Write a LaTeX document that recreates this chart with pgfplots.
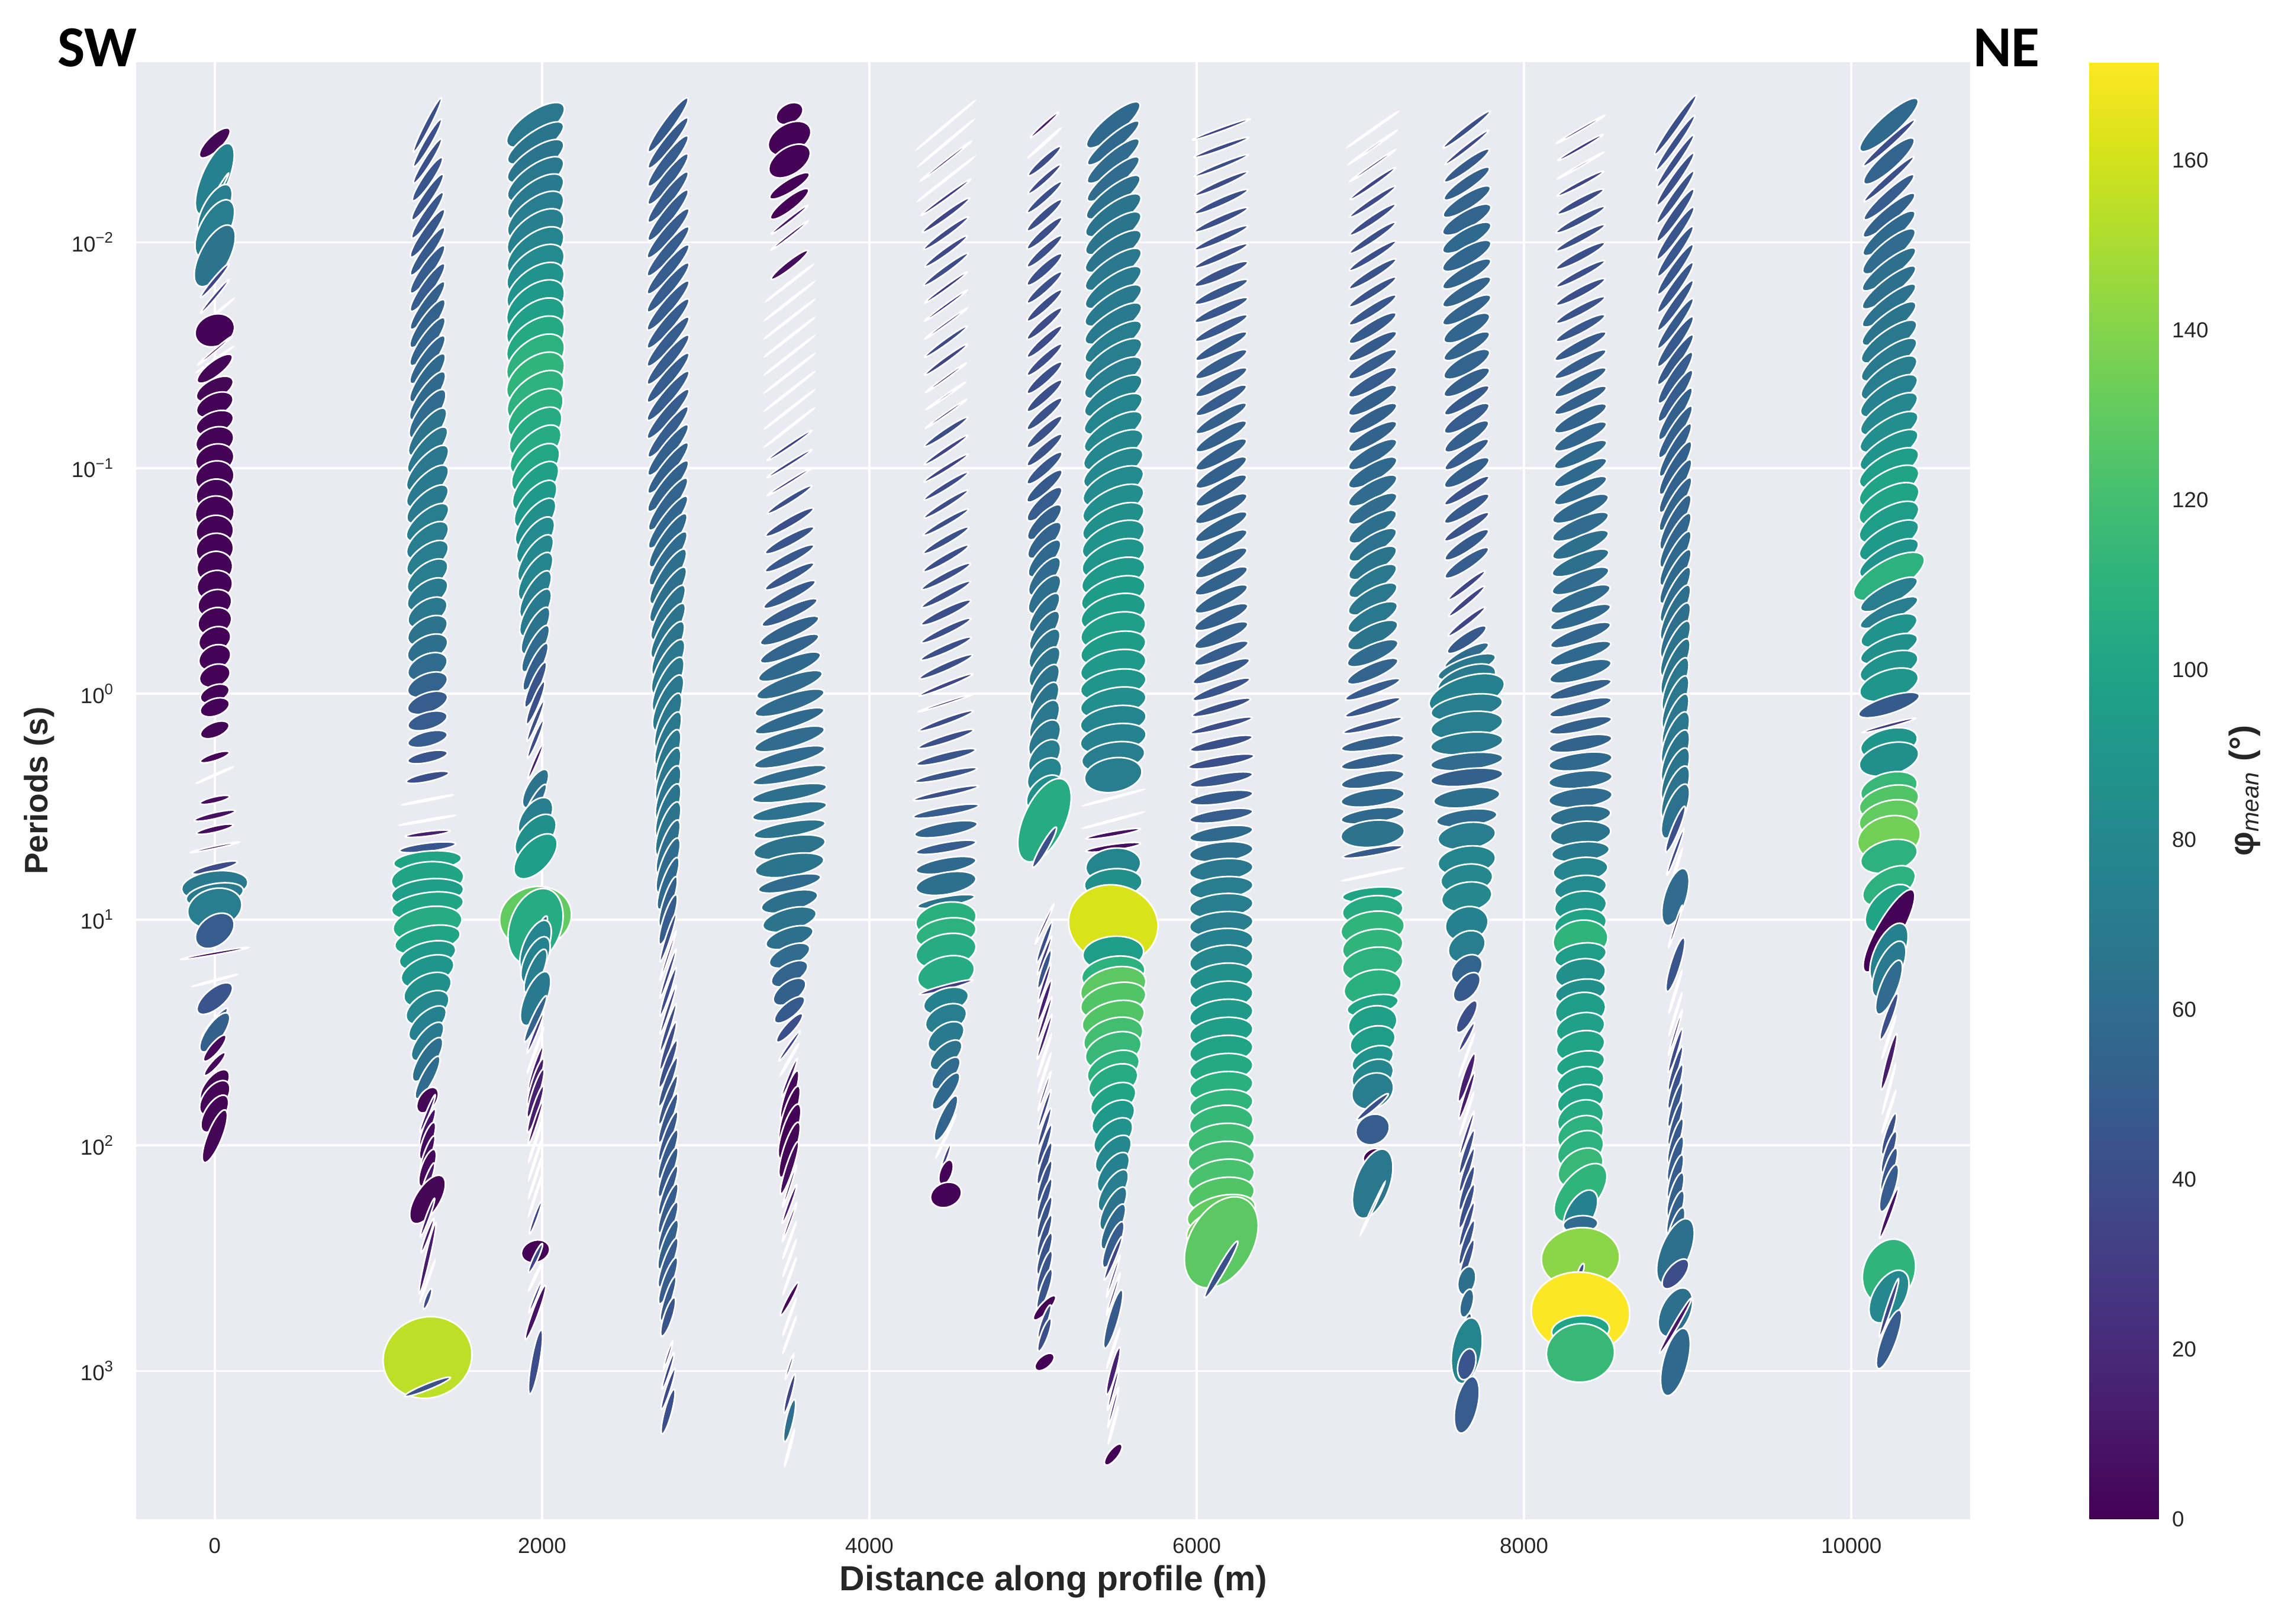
\documentclass[border=0pt]{standalone}
\usepackage{fontspec}
\setmainfont{Liberation Sans}
\newfontfamily\calib{Carlito}
\usepackage{pgfplots}
\usepackage{pgfplotstable}
\pgfplotsset{compat=1.18}
% columns: t = log10 period, L/W = ellipse axes (px at 1568 wide), A = tilt, P = phi mean
\pgfplotstableread{
t L W A P
-2.44 28 6 44 2
-2.36 26 2.5 48 35
-2.28 53 11 67 75
-2.20 38 1.5 60 70
-2.14 40 10 62 72
-2.06 44 12 62 72
-1.94 47 12 62 65
-1.83 30 2 50 35
-1.76 30 1.5 50 30
-1.68 33 0.6 40 30
-1.61 28 13 22 1
-1.52 30 1 40 10
-1.48 30 0.6 35 10
-1.44 30 6 38 2
-1.35 28 8 28 2
-1.28 27 9 25 1
-1.20 27 9 22 1
-1.12 27 11 20 1
-1.04 27 12 18 1
-0.96 27 13 17 1
-0.88 26 13 15 1
-0.80 27 14 13 1
-0.72 26 13 12 1
-0.64 26 13 15 1
-0.56 25 13 18 1
-0.48 25 12 20 1
-0.40 24 11 22 1
-0.32 24 11 23 1
-0.24 23 10 25 1
-0.16 23 10 25 1
-0.08 22 9 22 1
0.00 21 7 22 1
0.06 21 7 20 1
0.16 21 6 22 2
0.28 21 3 18 3
0.36 27 0.6 24 10
0.47 21 2.5 13 5
0.54 29 2.5 13 8
0.60 26 2.5 13 5
0.68 34 1 12 10
0.77 32 3 14 40
0.85 46 12 7 70
0.89 40 9 10 70
0.95 38 16 15 72
1.05 30 12 38 50
1.15 47 1.2 10 5
1.27 31 0.6 15 10
1.35 30 8 40 45
1.46 27 3 50 50
1.50 32 7 55 52
1.57 23 4 50 3
1.64 21 3 48 4
1.74 28 8 52 2
1.79 28 9 52 2
1.86 29 8 58 2
1.96 39 6 68 2
}\sA
\pgfplotstableread{
t L W A P
-2.52 42 2.5 63 42
-2.44 38 3 60 42
-2.36 36 3 58 42
-2.28 36 4 56 45
-2.20 38 4 56 45
-2.12 38 4 56 46
-2.04 40 4.5 55 47
-1.96 40 4.5 55 48
-1.88 40 5 55 50
-1.80 40 5 55 50
-1.72 40 5 55 52
-1.64 40 6 55 54
-1.56 40 6 55 55
-1.48 40 6 55 56
-1.40 40 6.5 55 58
-1.32 40 7 55 58
-1.24 40 8 55 60
-1.16 40 8 53 65
-1.08 40 8 50 68
-1.00 40 9 48 68
-0.92 38 9 45 70
-0.84 36 9 42 70
-0.76 36 9 40 72
-0.68 35 10 40 72
-0.60 34 10 38 72
-0.52 33 10 38 72
-0.44 32 10 35 70
-0.36 30 10 32 68
-0.28 30 10 30 65
-0.20 30 10 27 62
-0.12 29 10 25 60
-0.04 29 9 22 55
0.04 29 8 20 50
0.12 28 7 16 50
0.20 28 6 14 50
0.28 28 4.5 12 45
0.37 30 3.5 12 42
0.47 35 0.7 11 30
0.56 38 0.7 10 30
0.62 31 2 7 15
0.68 39 3.5 7 45
0.74 47 8 5 100
0.82 50 14 5 100
0.88 50 11 6 95
0.94 50 11 8 100
1.02 48 14 10 105
1.09 46 11 12 100
1.16 40 11 15 92
1.23 38 12 20 90
1.31 35 12 26 85
1.39 33 11 32 80
1.46 32 9 42 75
1.54 32 8 52 70
1.62 35 7 58 62
1.70 33 5 62 60
1.80 20 7 55 2
1.86 28 1.5 68 10
1.92 27 3 68 8
1.98 27 4 70 4
2.04 27 3 70 6
2.10 27 5 70 3
2.16 27 2.5 70 10
2.24 38 10 58 2
2.32 28 1.5 70 12
2.40 25 1.5 70 12
2.50 50 2 77 12
2.60 30 0.6 70 10
2.68 15 2 70 40
2.94 62 33 20 155
3.07 34 2.5 22 42
}\sB
\pgfplotstableread{
t L W A P
-2.52 47 11 35 68
-2.44 46 9 35 66
-2.36 46 10 35 66
-2.28 46 11 36 68
-2.20 46 12 37 70
-2.12 46 13 38 72
-2.04 46 14 38 74
-1.96 46 14 38 78
-1.88 46 15 38 82
-1.80 46 15 38 88
-1.72 46 16 38 92
-1.64 46 16 38 98
-1.56 46 16 38 104
-1.48 46 16 38 110
-1.40 46 16 38 112
-1.32 46 15 39 110
-1.24 45 15 40 108
-1.16 44 14 42 105
-1.08 44 13 44 105
-1.00 42 13 46 102
-0.92 42 12 48 98
-0.84 40 11 50 92
-0.76 40 10 52 85
-0.68 38 10 54 82
-0.60 38 9 56 80
-0.52 38 9 58 78
-0.44 37 8 60 72
-0.36 37 8 60 70
-0.28 36 7 62 65
-0.20 36 6 62 60
-0.12 36 5 64 52
-0.04 34 4 66 45
0.04 32 3 68 42
0.12 30 2 68 42
0.20 28 2 68 40
0.30 26 1.5 67 15
0.42 30 7 60 65
0.48 28 4 60 62
0.55 32 11 55 72
0.63 36 12 48 85
0.72 38 12 47 95
0.99 50 25 15 130
1.03 54 21 70 105
1.10 39 4 67 50
1.12 39 10 67 78
1.18 35 9 65 75
1.23 33 6 67 72
1.35 40 9 67 70
1.44 35 3 65 55
1.50 30 1.5 68 30
1.58 32 0.6 70 10
1.66 32 2 72 12
1.72 34 3 72 14
1.77 35 3 72 15
1.84 34 2.5 72 14
1.90 32 1.5 72 10
1.98 30 0.7 72 10
2.06 30 0.6 72 10
2.14 30 0.6 72 10
2.22 30 0.6 72 10
2.32 24 1.5 70 35
2.47 20 9 20 1
2.50 22 2 65 35
2.58 22 0.7 65 20
2.67 24 1.2 68 30
2.74 40 2.5 70 8
2.96 45 3.5 80 40
}\sC
\pgfplotstableread{
t L W A P
-2.52 46 4.5 54 48
-2.44 44 4.5 52 48
-2.36 44 5 52 50
-2.28 44 5 52 50
-2.20 44 5 52 50
-2.12 44 5 52 50
-2.04 44 5 50 50
-1.96 44 5 50 50
-1.88 44 5 50 50
-1.80 44 5 50 50
-1.72 44 5 50 50
-1.64 44 5 50 50
-1.56 44 5 50 50
-1.48 44 5 50 50
-1.40 44 5 50 50
-1.32 44 5 50 50
-1.24 44 5 50 50
-1.16 44 5 52 50
-1.08 44 5.5 52 52
-1.00 44 5.5 52 52
-0.92 44 6 52 54
-0.84 44 6 54 55
-0.76 44 6 54 56
-0.68 44 6.5 56 58
-0.60 44 6.5 56 60
-0.52 44 7 58 62
-0.44 44 7 58 62
-0.36 43 7 60 64
-0.28 43 7 60 65
-0.20 42 7.5 62 66
-0.12 42 8 62 68
-0.04 42 8 64 68
0.04 42 8 65 68
0.12 41 7 68 68
0.20 40 7 68 68
0.28 40 7 70 68
0.36 40 7 70 68
0.44 40 7 70 66
0.52 40 7 70 66
0.60 40 7 70 65
0.68 40 6 70 62
0.76 40 6 70 60
0.84 38 5 70 58
0.92 36 4 72 52
1.00 36 4 72 50
1.08 35 2 72 42
1.16 35 1 72 30
1.24 35 1.5 72 35
1.32 35 2 72 38
1.40 35 1.5 72 35
1.48 35 2 72 40
1.56 35 2.5 72 40
1.64 35 3 70 42
1.72 36 3 70 45
1.80 36 3 70 45
1.88 36 3.5 70 46
1.96 36 3.5 70 46
2.04 36 4 70 48
2.12 36 4 70 48
2.20 36 3.5 70 48
2.28 36 4 70 50
2.36 36 4 70 50
2.44 36 4.5 70 52
2.52 36 4 70 50
2.60 34 4 70 50
2.68 32 3 72 48
2.76 28 3.5 72 45
2.93 20 1 72 20
3.00 26 1.5 72 35
3.08 30 2 72 38
3.18 32 3 75 42
}\sD
\pgfplotstableread{
t L W A P
-2.57 20 8 30 1
-2.46 32 12 30 1
-2.36 32 11 33 1
-2.25 32 5 32 1
-2.17 33 5 38 1
-2.10 32 1.5 38 10
-2.03 32 1.2 38 12
-1.90 32 3 38 5
-1.82 40 0.6 38 10
-1.74 42 0.6 38 10
-1.66 42 0.6 38 10
-1.58 42 0.6 38 10
-1.50 42 0.6 38 10
-1.42 42 0.6 38 10
-1.34 42 0.6 38 10
-1.26 42 0.6 38 10
-1.18 42 0.6 38 10
-1.10 37 1.5 34 35
-1.02 36 1.5 32 35
-0.94 36 1.2 32 30
-0.86 36 2.5 32 42
-0.76 38 3.5 30 42
-0.68 38 4 28 45
-0.60 38 4 28 46
-0.52 38 4 28 46
-0.44 40 4.5 27 48
-0.36 42 5 25 50
-0.28 44 6 24 54
-0.20 44 6 24 55
-0.12 46 7 22 58
-0.04 48 7 20 60
0.04 50 7 18 60
0.12 50 6 18 58
0.20 50 7 16 60
0.28 50 6 14 60
0.36 52 5 12 60
0.44 52 6 10 62
0.52 52 6 10 64
0.60 50 6 10 65
0.68 50 9 10 65
0.76 48 9 10 66
0.84 44 6 12 60
0.92 40 8 14 62
1.00 38 9 15 65
1.08 34 8 18 62
1.16 30 8 24 60
1.24 28 8 30 55
1.32 26 8 36 52
1.40 26 6 40 48
1.48 26 4 48 42
1.56 25 1.5 55 35
1.62 25 0.7 60 20
1.70 28 1.5 68 10
1.78 36 4 72 3
1.86 40 5 72 2
1.94 40 6 72 1
2.02 40 5 72 2
2.10 38 3 72 5
2.18 30 1 72 12
2.26 28 1.5 70 12
2.34 28 1 70 12
2.42 26 0.6 70 10
2.50 26 0.6 70 10
2.58 26 0.6 70 10
2.68 26 2 62 3
2.76 26 0.6 70 10
2.84 26 0.6 70 10
2.98 18 1 72 35
3.10 28 2 75 35
3.22 30 3 77 62
3.34 26 0.7 75 30
}\sE
\pgfplotstableread{
t L W A P
-2.52 50 0.6 40 30
-2.44 48 0.6 40 30
-2.36 44 1 38 20
-2.28 48 0.6 38 30
-2.20 42 1.5 36 30
-2.12 40 2.5 36 35
-2.04 38 2.5 36 38
-1.96 36 2.5 36 38
-1.88 38 2.5 36 40
-1.80 36 1.5 36 30
-1.72 36 1.2 36 25
-1.64 36 1 36 25
-1.56 36 2 36 38
-1.48 36 2 36 35
-1.40 34 1 36 20
-1.32 32 0.8 35 15
-1.24 34 1 35 25
-1.16 36 2.5 34 40
-1.08 36 2 34 35
-1.00 36 2 32 35
-0.92 36 2.5 32 40
-0.84 36 2.5 32 40
-0.76 36 2.5 30 42
-0.68 36 3 30 42
-0.60 36 3 30 42
-0.52 38 3 28 42
-0.44 38 3 28 42
-0.36 38 3.5 26 42
-0.28 38 3 26 42
-0.20 38 3 24 42
-0.12 40 3 24 42
-0.04 40 2 22 35
0.04 40 1 18 25
0.12 40 2.5 20 40
0.20 40 3 18 42
0.28 42 3.5 14 45
0.36 44 3 12 45
0.44 46 2.5 12 42
0.52 46 3.5 10 50
0.60 44 5.5 10 55
0.68 42 4 10 50
0.76 42 6 10 58
0.84 42 9 10 62
0.92 40 4 10 65
1.00 42 14 10 108
1.06 42 12 10 110
1.14 42 14 12 105
1.24 40 14 15 105
1.30 38 2 15 30
1.36 32 10 18 75
1.44 30 11 25 72
1.52 28 10 35 70
1.60 27 8 42 65
1.68 27 7 50 60
1.76 30 6 55 58
1.88 34 5 65 55
1.96 32 0.7 65 20
2.05 18 1.5 70 30
2.12 18 5 70 1
2.22 22 10 22 1
}\sF
\pgfplotstableread{
t L W A P
-2.52 26 1.5 42 15
-2.44 30 0.7 42 20
-2.36 30 3 42 40
-2.28 30 2.5 42 38
-2.20 32 3 42 42
-2.12 32 3.5 42 42
-2.04 32 3.5 42 42
-1.96 32 3.5 42 42
-1.88 32 4 42 42
-1.80 32 3.5 42 42
-1.72 32 3.5 42 40
-1.64 32 3.5 42 40
-1.56 32 3.5 42 40
-1.48 32 3.5 42 40
-1.40 32 4 42 42
-1.32 32 4 42 42
-1.24 32 4 42 44
-1.16 32 4 42 44
-1.08 32 4 42 44
-1.00 32 4.5 42 46
-0.92 32 5 42 48
-0.84 32 6 44 50
-0.76 32 6.5 46 52
-0.68 32 7 48 55
-0.60 32 7 50 58
-0.52 32 7.5 52 60
-0.44 32 8 52 62
-0.36 32 7 54 62
-0.28 32 7 55 62
-0.20 32 8 55 65
-0.12 32 8 55 65
-0.04 32 8 58 65
0.04 32 8 60 66
0.12 32 9 60 68
0.20 30 10 55 68
0.28 28 10 50 72
0.36 28 11 45 78
0.44 30 11 45 85
0.56 62 17 65 105
0.68 32 3 60 42
1.02 30 1 65 20
1.10 30 2 70 42
1.16 28 1.5 70 30
1.22 28 2.5 72 45
1.28 28 1.5 72 20
1.36 30 2 72 15
1.44 32 1.5 72 15
1.52 32 1.5 72 15
1.60 30 0.7 72 20
1.68 28 0.7 72 20
1.76 28 1 72 30
1.84 28 1.5 72 35
1.92 28 2 72 40
2.00 30 2.5 72 42
2.08 30 3 72 42
2.16 30 3 72 44
2.24 30 3 72 44
2.32 30 3 72 44
2.40 30 3 72 44
2.48 30 3.5 72 44
2.56 30 3.5 72 45
2.64 30 3.5 72 45
2.72 22 4 48 1
2.78 24 2.5 70 42
2.84 24 3 70 42
2.96 16 5 40 1
}\sG
\pgfplotstableread{
t L W A P
-2.52 47 8 40 58
-2.44 46 6 40 58
-2.36 46 7 40 60
-2.28 46 7 40 60
-2.20 46 8 38 62
-2.12 46 9 36 66
-2.04 46 9 36 66
-1.96 46 9 35 66
-1.88 46 9 35 68
-1.80 46 9 35 70
-1.72 46 9 34 70
-1.64 46 9 34 70
-1.56 46 9 34 72
-1.48 46 10 34 72
-1.40 46 10 33 72
-1.32 46 10 33 75
-1.24 46 10 32 78
-1.16 46 10 32 80
-1.08 46 11 30 80
-1.00 46 11 30 80
-0.92 46 12 28 82
-0.84 46 12 27 84
-0.76 46 12 26 86
-0.68 46 13 25 88
-0.60 46 13 24 90
-0.52 46 13 22 92
-0.44 46 13 20 94
-0.36 46 14 18 94
-0.28 46 14 16 96
-0.20 46 13 15 94
-0.12 46 13 14 92
-0.04 46 12 12 90
0.04 46 12 12 84
0.12 46 12 10 78
0.20 46 12 10 76
0.28 44 12 10 72
0.36 40 14 10 72
0.46 42 0.6 15 20
0.56 42 0.6 15 20
0.62 38 2 10 8
0.68 38 2.5 8 5
0.76 38 14 8 78
0.84 40 12 5 85
1.02 62 32 -12 162
1.15 42 14 5 95
1.24 44 14 10 110
1.30 46 16 15 128
1.36 46 14 15 125
1.44 44 14 16 125
1.52 42 15 18 120
1.58 40 14 20 115
1.66 38 13 24 110
1.72 36 13 26 105
1.80 34 12 30 100
1.88 33 12 35 92
1.96 32 11 42 88
2.04 32 10 48 80
2.12 32 9 55 75
2.20 33 8 58 72
2.28 33 7 62 65
2.36 34 6 65 58
2.44 34 5 68 50
2.50 32 2 68 35
2.58 30 1 72 30
2.66 30 1 72 30
2.77 42 4 74 48
2.90 28 0.7 72 15
3.00 34 2.5 75 15
3.08 30 1.2 75 15
3.16 28 1 75 15
3.24 26 0.7 75 15
3.37 18 4 52 1
}\sH
\pgfplotstableread{
t L W A P
-2.50 42 1.5 20 35
-2.42 40 2 20 38
-2.34 40 2 22 40
-2.26 40 2.5 24 40
-2.18 40 3 24 42
-2.10 40 3 24 42
-2.02 40 3 24 42
-1.94 40 3 24 42
-1.86 40 4 24 44
-1.78 40 4 24 46
-1.70 40 4 24 46
-1.62 40 4 26 46
-1.54 40 4.5 28 48
-1.46 40 5 28 50
-1.38 40 5 28 50
-1.30 40 5 30 50
-1.22 40 5 30 52
-1.14 40 5.5 30 52
-1.06 40 6 30 52
-0.98 40 6 30 52
-0.90 40 6 30 52
-0.82 40 6 28 52
-0.74 40 6 28 54
-0.66 40 6 28 54
-0.58 40 6 28 54
-0.50 40 6 26 54
-0.42 40 6 26 54
-0.34 40 6 24 52
-0.26 40 6 24 52
-0.18 40 5 22 50
-0.10 42 5 22 48
-0.02 42 4 20 45
0.06 42 3.5 16 42
0.14 44 3 14 40
0.22 44 4 12 42
0.30 46 4 10 42
0.38 44 4.5 10 46
0.46 44 5 8 48
0.54 44 5 8 50
0.62 44 6 8 58
0.70 44 8 6 62
0.78 44 9 6 68
0.86 44 9 6 72
0.94 44 10 6 72
1.02 44 10 6 72
1.10 44 11 6 75
1.18 44 12 8 80
1.26 44 12 8 85
1.34 44 12 8 90
1.42 44 12 8 92
1.50 44 12 8 96
1.58 44 12 8 100
1.66 44 12 8 104
1.74 44 12 8 108
1.82 44 12 8 112
1.90 44 14 8 114
1.98 46 14 8 118
2.06 46 14 8 120
2.14 46 14 10 122
2.22 46 14 10 125
2.30 48 14 14 130
2.36 50 15 20 135
2.43 68 26 60 128
2.55 45 3 60 42
}\sI
\pgfplotstableread{
t L W A P
-2.50 42 0.6 35 30
-2.42 40 0.8 35 25
-2.34 38 1 35 30
-2.26 38 2 35 36
-2.18 38 2.5 34 38
-2.10 38 3 34 40
-2.02 38 3 34 42
-1.94 38 3 32 42
-1.86 38 3.5 32 44
-1.78 38 3.5 32 44
-1.70 38 4 32 46
-1.62 38 5 32 48
-1.54 38 5 30 48
-1.46 38 5 30 50
-1.38 38 5.5 30 50
-1.30 38 6 30 52
-1.22 38 6 30 52
-1.14 38 6 30 54
-1.06 38 6.5 30 56
-0.98 38 7 30 58
-0.90 38 7 30 60
-0.82 38 7 30 60
-0.74 38 7.5 32 62
-0.66 38 7.5 32 64
-0.58 38 8 32 66
-0.50 38 8 32 68
-0.42 38 8 30 68
-0.34 38 8 28 68
-0.26 38 8 26 66
-0.18 38 7 24 60
-0.10 38 6 24 55
-0.02 40 4 20 50
0.06 40 3.5 18 46
0.14 42 3 14 45
0.22 44 5 10 52
0.30 44 5 10 52
0.38 44 6 10 55
0.46 44 7 8 58
0.54 44 6 8 58
0.62 44 11 6 65
0.70 42 3 10 48
0.80 42 0.7 12 30
0.89 42 6 5 100
0.96 42 12 6 106
1.04 44 14 8 112
1.12 42 14 10 112
1.20 42 14 10 110
1.30 40 14 12 108
1.38 36 8 12 100
1.46 34 14 15 98
1.54 32 12 18 95
1.62 30 10 22 88
1.69 30 12 25 80
1.76 30 14 28 72
1.83 28 2.5 40 42
1.93 24 12 30 50
2.05 14 6 30 1
2.17 50 14 70 68
2.28 40 0.8 65 20
}\sJ
\pgfplotstableread{
t L W A P
-2.50 41 2.5 38 42
-2.42 38 2 38 38
-2.34 38 4 36 48
-2.26 38 5 35 52
-2.18 38 6 32 55
-2.10 38 7 30 55
-2.02 38 7 30 58
-1.94 38 7 30 56
-1.86 38 6 30 55
-1.78 38 6 30 55
-1.70 38 6 30 55
-1.62 36 7 30 56
-1.54 36 6 30 55
-1.46 36 7 30 55
-1.38 36 6 30 52
-1.30 36 5 32 48
-1.22 36 6 32 50
-1.14 36 6 34 52
-1.06 36 5 34 50
-0.98 36 6 32 52
-0.90 36 4 32 44
-0.82 36 5 32 48
-0.74 36 4 32 44
-0.66 36 5 34 48
-0.58 36 5 34 50
-0.48 32 2.5 38 36
-0.41 32 2.5 40 36
-0.32 32 2.5 38 36
-0.24 32 5 34 48
-0.17 34 5 28 60
-0.12 42 7 20 68
-0.06 42 11 20 70
0.00 54 14 18 75
0.06 50 10 10 72
0.14 50 11 8 72
0.22 50 9 6 70
0.30 50 7 6 60
0.37 50 7 6 52
0.46 46 8 7 62
0.55 42 7 7 60
0.63 40 11 8 72
0.74 40 12 8 78
0.82 36 12 8 80
0.90 35 12 10 80
1.02 30 14 18 75
1.12 27 12 30 72
1.22 24 10 40 55
1.30 24 8 50 48
1.43 25 5 60 42
1.52 22 2 62 35
1.60 30 0.6 70 10
1.70 35 3 72 14
1.78 34 2 72 12
1.86 30 0.6 72 10
1.95 32 1.5 72 30
2.03 32 2.5 72 40
2.11 32 2.5 72 40
2.19 32 3 72 42
2.27 32 3 72 42
2.35 32 2.5 72 42
2.43 32 3 72 44
2.51 30 3 72 44
2.60 20 7 75 62
2.70 20 5 75 58
2.80 18 3 75 50
2.91 46 12 80 78
2.97 22 7 75 45
3.15 40 9 77 50
}\sK
\pgfplotstableread{
t L W A P
-2.50 38 1 30 30
-2.42 36 1.5 30 30
-2.34 36 0.8 30 20
-2.26 36 2 28 35
-2.18 36 3 28 40
-2.10 38 3 28 42
-2.02 38 3 28 42
-1.94 38 3.5 28 42
-1.86 38 3 28 42
-1.78 38 3.5 28 42
-1.70 38 3.5 28 44
-1.62 38 4 28 46
-1.54 40 4.5 28 48
-1.46 40 4.5 28 50
-1.38 40 5 28 52
-1.30 40 5 27 52
-1.22 40 6 27 54
-1.14 40 6 27 56
-1.06 40 6 26 58
-0.98 40 6 26 58
-0.90 40 6 26 58
-0.82 42 7 24 58
-0.74 42 7 24 60
-0.66 42 7 24 62
-0.58 42 7 22 62
-0.50 42 7 22 60
-0.42 44 7 22 60
-0.34 44 6 20 58
-0.26 44 6 20 56
-0.18 44 6 18 58
-0.10 44 7 16 58
-0.02 44 5 15 52
0.06 44 5 14 52
0.14 44 5 12 52
0.22 44 6 10 54
0.30 44 7 8 58
0.38 44 7 6 60
0.46 44 8 6 60
0.54 42 8 6 62
0.62 42 10 6 66
0.70 40 8 6 70
0.78 38 10 7 78
0.86 36 10 8 82
0.94 36 12 8 90
1.02 36 12 10 100
1.09 38 16 10 112
1.16 36 10 10 95
1.24 35 12 10 85
1.32 35 10 10 85
1.40 35 14 12 95
1.48 34 12 14 98
1.56 34 12 14 100
1.64 34 10 14 100
1.72 33 12 16 100
1.80 33 12 18 100
1.88 33 14 24 105
1.95 33 14 25 110
2.02 34 14 30 110
2.10 34 14 35 115
2.21 48 15 50 112
2.30 35 11 60 75
2.35 24 7 5 60
2.50 54 25 5 142
2.56 12 2 70 42
2.74 68 33 -5 171
2.82 40 12 5 100
2.92 47 24 5 115
}\sL
\pgfplotstableread{
t L W A P
-2.52 50 3 55 42
-2.44 46 3 55 42
-2.36 44 3 55 42
-2.28 44 3.5 55 42
-2.20 44 3.5 55 44
-2.12 44 4 55 44
-2.04 44 4 55 45
-1.96 42 4 55 46
-1.88 42 4 55 46
-1.80 42 4 55 46
-1.72 42 4 55 46
-1.64 42 4 55 48
-1.56 42 4.5 55 48
-1.48 42 4.5 55 48
-1.40 42 5 57 50
-1.32 42 5 57 50
-1.24 42 5 58 52
-1.16 42 5 58 52
-1.08 42 5 60 52
-1.00 42 5.5 60 52
-0.92 42 5.5 60 54
-0.84 42 5.5 60 55
-0.76 42 6 62 55
-0.68 42 6 62 56
-0.60 42 6 62 58
-0.52 42 6 62 58
-0.44 42 6 63 60
-0.36 42 6.5 64 62
-0.28 42 7 65 62
-0.20 42 7 65 65
-0.12 42 7 66 65
-0.04 40 7 68 68
0.04 40 7 68 68
0.12 40 7 68 68
0.20 40 8 68 68
0.28 40 8 68 66
0.36 40 8 68 66
0.44 40 8 68 65
0.52 40 8 68 64
0.60 34 3 68 42
0.70 34 1.5 70 38
0.78 30 0.7 72 25
0.90 41 9 73 60
1.03 30 1 72 15
1.20 39 4 73 45
1.32 30 0.7 73 20
1.42 30 0.6 73 20
1.50 32 1 73 30
1.58 32 2 73 38
1.66 32 2.5 73 42
1.74 32 3 73 44
1.82 32 3 73 46
1.90 32 3 73 46
1.98 32 3.5 73 48
2.06 32 4 73 50
2.14 32 4 73 50
2.22 32 4.5 73 52
2.30 32 4.5 72 52
2.38 34 5 72 55
2.47 48 12 68 62
2.57 25 7 50 40
2.74 36 12 65 62
2.80 44 2 60 10
2.96 48 10 75 58
}\sM
\pgfplotstableread{
t L W A P
-2.52 53 8 42 58
-2.44 48 3 42 40
-2.36 46 7 42 55
-2.28 46 3 42 42
-2.20 46 5 42 50
-2.12 46 6 40 54
-2.04 46 7 40 58
-1.96 46 8 40 60
-1.88 46 7 38 62
-1.80 46 7 38 62
-1.72 46 7 38 64
-1.64 46 8 38 66
-1.56 46 9 36 68
-1.48 46 9 36 70
-1.40 46 10 36 72
-1.32 46 10 34 76
-1.24 46 10 34 80
-1.16 46 10 32 84
-1.08 46 10 32 88
-1.00 46 11 30 95
-0.92 46 12 30 100
-0.84 46 13 30 100
-0.76 46 12 30 95
-0.68 46 11 30 92
-0.60 46 10 30 88
-0.52 55 13 30 110
-0.44 44 8 28 72
-0.36 44 7 26 72
-0.28 42 10 25 88
-0.20 42 9 22 86
-0.12 42 11 20 88
-0.04 42 12 18 90
0.05 44 7 18 48
0.14 38 1.5 15 30
0.22 40 12 14 90
0.29 42 13 15 85
0.42 40 13 15 115
0.48 42 13 15 125
0.55 42 14 15 130
0.64 44 18 15 135
0.72 40 13 15 110
0.85 40 13 30 110
0.95 40 14 45 100
1.05 65 10 60 1
1.15 45 12 65 75
1.22 42 10 65 70
1.30 40 7 68 60
1.43 34 3 70 42
1.52 30 0.7 72 20
1.63 40 2.5 75 12
1.75 34 0.6 75 10
1.85 30 0.7 72 25
1.95 30 3 72 42
2.03 30 3.5 72 44
2.11 32 4 72 46
2.19 34 5 72 50
2.30 37 2 70 8
2.56 46 21 70 112
2.67 40 13 60 80
2.72 42 2 72 35
2.86 43 6 70 50
}\sN
\pgfdeclareplotmark{pte}{%
  \pgfsetstrokecolor{white}\pgfsetlinewidth{0.55pt}%
  \pgftransformrotate{\pA}%
  \pgfpathellipse{\pgfpointorigin}{\pgfpoint{\pL*0.25pt}{0pt}}{\pgfpoint{0pt}{\pW*0.42pt}}%
  \pgfusepathqfillstroke}
\pgfplotsset{ell/.style={scatter,only marks,mark=pte,
  scatter src=explicit,
  visualization depends on={\thisrow{L} \as \pL},
  visualization depends on={\thisrow{W} \as \pW},
  visualization depends on={\thisrow{A} \as \pA}}}
\newcommand\station[2]{\addplot[ell] table[x expr=#1,y expr={pow(10,\thisrow{t})},meta=P]{#2};}
\definecolor{bg}{HTML}{EAEAF2}
\definecolor{ink}{HTML}{262626}
\begin{document}
\begin{tikzpicture}
\useasboundingbox (-47pt,-36pt) rectangle (737pt,523.5pt);
\begin{axis}[
  at={(0,0)},anchor=south west,
  scale only axis,width=632pt,height=502pt,
  ymode=log,y dir=reverse,
  xmin=-479,xmax=10727,ymin=0.001596,ymax=4529,
  axis background/.style={fill=bg},
  axis line style={draw=none},
  grid=major,grid style={white,line width=0.75pt},
  major tick length=0pt,minor tick length=0pt,
  xtick={0,2000,4000,6000,8000,10000},
  scaled x ticks=false,
  /pgf/number format/.cd,1000 sep={},assume math mode=true,/pgfplots/.cd,
  ytick={0.01,0.1,1,10,100,1000},
  yticklabels={10\textsuperscript{−2},10\textsuperscript{−1},10\textsuperscript{0},10\textsuperscript{1},10\textsuperscript{2},10\textsuperscript{3}},
  minor y tick num=0,
  tick label style={font=\fontsize{7.5}{9}\selectfont,text=ink},
  xticklabel style={yshift=-3pt},
  yticklabel style={xshift=-4pt},
  xlabel={\textbf{Distance along profile (m)}},
  ylabel={\textbf{Periods (s)}},
  xlabel style={font=\fontsize{12}{14}\selectfont,text=ink,at={(axis description cs:0.5,0)},anchor=center,yshift=-21.5pt},
  ylabel style={font=\fontsize{11.2}{13}\selectfont,text=ink,at={(axis description cs:0,0.5)},anchor=center,yshift=33.5pt},
  colormap/viridis,point meta min=0,point meta max=171.5,
  colorbar,
  colorbar/width=24pt,
  colorbar style={
    at={(1.0649,1)},anchor=north west,
    scale only axis,height=502pt,
    axis line style={draw=none},
    major tick length=0pt,
    ytick={0,20,40,60,80,100,120,140,160},
    ylabel={\textbf{φ}\textsubscript{\textit{mean}} \textbf{(°)}},
    ylabel style={font=\fontsize{11.7}{13}\selectfont,text=ink,at={(axis description cs:1,0.5)},anchor=center,rotate=0,yshift=-29.5pt},
    yticklabel style={font=\fontsize{7.5}{9}\selectfont,text=ink,xshift=1pt},
    /pgf/number format/assume math mode=true,
  },
]
\station{0}{\sA}
\station{1300}{\sB}
\station{1960}{\sC}
\station{2770}{\sD}
\station{3512}{\sE}
\station{4468}{\sF}
\station{5070}{\sG}
\station{5490}{\sH}
\station{6150}{\sI}
\station{7075}{\sJ}
\station{7650}{\sK}
\station{8345}{\sL}
\station{8925}{\sM}
\station{10230}{\sN}
\end{axis}
\node[font=\calib\bfseries\fontsize{20}{22}\selectfont] at (-13.5pt,507pt) {SW};
\node[font=\calib\bfseries\fontsize{20}{22}\selectfont] at (644.5pt,507pt) {NE};
\end{tikzpicture}
\end{document}
